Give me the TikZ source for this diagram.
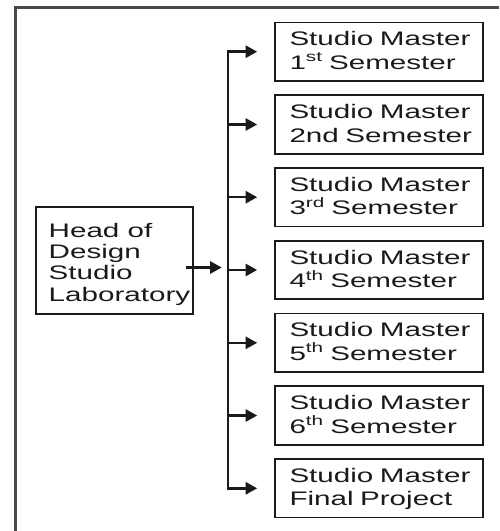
\documentclass[tikz,border=0pt]{standalone}
\usepackage{fontspec}
\setmainfont[FakeStretch=1.51]{Liberation Sans}
\usetikzlibrary{arrows.meta}
\definecolor{ink}{HTML}{1A1A1A}
\definecolor{framegray}{HTML}{4A4A4A}
\begin{document}
\begin{tikzpicture}[x=1pt,y=-1pt,
  semester/.style={draw=ink, line width=1.6pt, text=ink,
    text width=179pt, inner xsep=14.5pt, inner ysep=0pt,
    minimum height=58.5pt, align=left,
    font=\fontsize{19.6}{23.6}\selectfont,
    text height=14pt, text depth=26pt},
  headbox/.style={draw=ink, line width=1.6pt, minimum width=157.5pt,
    minimum height=107.5pt, inner sep=0pt},
  headtext/.style={text=ink, align=left, inner sep=0pt,
    font=\fontsize{19.6}{21.2}\selectfont, text height=77.6pt},
  arr/.style={draw=ink, line width=2.5pt, -{Triangle[length=11.5pt,width=12pt]}},
  bus/.style={draw=ink, line width=2.5pt, line join=miter,
    {Triangle[length=11.5pt,width=12pt]}-{Triangle[length=11.5pt,width=12pt]},
    shorten <=17pt, shorten >=17pt},
  frameline/.style={draw=framegray, line width=2.4pt}
]
\useasboundingbox (0,0) rectangle (499,531);

% outer frame (open at right and bottom)
\draw[frameline] (499,7.5) -- (15.5,7.5) -- (15.5,531);

% semester boxes
\node[semester] (s1) at (379,51.7)  {\mbox{Studio Master}\\\mbox{1\textsuperscript{st} Semester}};
\node[semester] (s2) at (379,124.5) {\mbox{Studio Master}\\\mbox{2nd Semester}};
\node[semester] (s3) at (379,197.2) {\mbox{Studio Master}\\\mbox{3\textsuperscript{rd} Semester}};
\node[semester] (s4) at (379,270.0) {\mbox{Studio Master}\\\mbox{4\textsuperscript{th} Semester}};
\node[semester] (s5) at (379,342.8) {\mbox{Studio Master}\\\mbox{5\textsuperscript{th} Semester}};
\node[semester] (s6) at (379,415.5) {\mbox{Studio Master}\\\mbox{6\textsuperscript{th} Semester}};
\node[semester] (s7) at (379,488.3) {\mbox{Studio Master}\\\mbox{Final Project}};

% head of laboratory
\node[headbox] (head) at (114.5,260.5) {};
\node[headtext, anchor=north west] (headtxt) at (48.5,223.3)
  {Head of\\Design\\Studio\\Laboratory};

% distribution bus
\coordinate (bus) at (228,0);
\draw[bus] (s1.west) -- (s1.west -| bus) -- (s7.west -| bus) -- (s7.west);
\foreach \i in {2,...,6}
  \draw[arr, shorten >=17pt] (s\i.west -| bus) -- (s\i.west);

% head feeds the bus
\coordinate (hs) at (185.5,267.5);
\coordinate (he) at (221.7,267.5);
\draw[arr] (hs) -- (he);
\end{tikzpicture}
\end{document}
